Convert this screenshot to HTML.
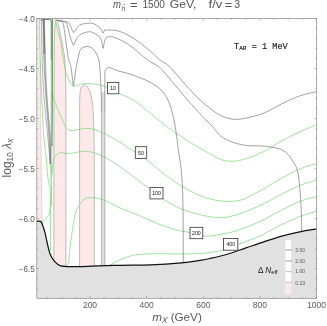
<!DOCTYPE html>
<html><head><meta charset="utf-8"><style>
html,body{margin:0;padding:0;background:#fff;}
svg{display:block;will-change:transform;opacity:0.999;font-family:"Liberation Sans",sans-serif;}
</style></head><body>
<svg width="327" height="326" viewBox="0 0 327 326">
<rect width="327" height="326" fill="#fff"/>
<path d="M36.8,18.6 L39.6,18.6 L40.1,54 L40.7,114 L41.1,154 L41.6,194 L42.2,224 L36.8,224 Z" fill="#fde9e9"/>
<path d="M40.2,60 L40.7,114 L41.1,154 L41.6,194 L42.2,224" fill="none" stroke="#c4c4c4" stroke-width="0.6"/>
<path d="M53.9,266 L53.90,120.00 C53.92,115.00 53.97,100.00 54.00,90.00 C54.03,80.00 54.05,68.33 54.10,60.00 C54.15,51.67 54.17,45.50 54.30,40.00 C54.43,34.50 54.67,30.00 54.90,27.00 C55.13,24.00 55.40,23.15 55.70,22.00 C56.00,20.85 56.30,19.87 56.70,20.10 C57.10,20.33 57.63,21.78 58.10,23.40 C58.57,25.02 58.97,27.20 59.50,29.80 C60.03,32.40 60.77,36.30 61.30,39.00 C61.83,41.70 62.20,43.17 62.70,46.00 C63.20,48.83 63.87,52.00 64.30,56.00 C64.73,60.00 65.05,64.33 65.30,70.00 C65.55,75.67 65.70,80.00 65.80,90.00 C65.90,100.00 65.88,123.33 65.90,130.00 L65.9,266 Z" fill="#fde9e9" stroke="#8a8a8a" stroke-width="0.55"/>
<path d="M79.6,267 L79.60,125.00 C79.60,122.50 79.57,114.70 79.60,110.00 C79.63,105.30 79.63,100.23 79.80,96.80 C79.97,93.37 80.17,91.23 80.60,89.40 C81.03,87.57 81.77,86.57 82.40,85.80 C83.03,85.03 83.63,84.68 84.40,84.80 C85.17,84.92 86.08,85.42 87.00,86.50 C87.92,87.58 89.15,89.38 89.90,91.30 C90.65,93.22 91.03,95.55 91.50,98.00 C91.97,100.45 92.35,102.33 92.70,106.00 C93.05,109.67 93.37,114.33 93.60,120.00 C93.83,125.67 93.98,133.33 94.10,140.00 C94.22,146.67 94.27,156.67 94.30,160.00 L94.3,267 Z" fill="#fde9e9" stroke="#8a8a8a" stroke-width="0.55"/>
<path d="M101.4,267 L101.4,92 L104.9,92 L104.9,267 Z" fill="#dedede"/>
<path d="M54.90,18.60 C55.05,19.23 55.35,20.53 55.80,22.40 C56.25,24.27 56.98,27.33 57.60,29.80 C58.22,32.27 58.88,34.75 59.50,37.20 C60.12,39.65 60.82,41.70 61.30,44.50 C61.78,47.30 61.83,50.37 62.40,54.00 C62.97,57.63 64.03,62.97 64.70,66.30 C65.37,69.63 65.57,71.52 66.40,74.00 C67.23,76.48 68.53,79.18 69.70,81.20 C70.87,83.22 71.87,85.50 73.40,86.10 C74.93,86.70 77.07,85.22 78.90,84.80 C80.73,84.38 81.95,83.75 84.40,83.60 C86.85,83.45 90.53,83.53 93.60,83.90 C96.67,84.27 100.40,85.12 102.80,85.80 C105.20,86.48 105.38,86.78 108.00,88.00 C110.62,89.22 115.50,91.70 118.50,93.10 C121.50,94.50 123.20,95.02 126.00,96.40 C128.80,97.78 131.18,98.52 135.30,101.40 C139.42,104.28 145.58,109.60 150.70,113.70 C155.82,117.80 161.67,122.68 166.00,126.00 C170.33,129.32 172.60,130.80 176.70,133.60 C180.80,136.40 185.73,139.83 190.60,142.80 C195.47,145.77 200.87,148.60 205.90,151.40 C210.93,154.20 216.23,157.97 220.80,159.60 C225.37,161.23 229.12,161.35 233.30,161.20 C237.48,161.05 240.82,160.32 245.90,158.70 C250.98,157.08 257.82,154.48 263.80,151.50 C269.78,148.52 275.82,144.08 281.80,140.80 C287.78,137.52 293.90,134.50 299.70,131.80 C305.50,129.10 313.78,125.80 316.60,124.60" fill="none" stroke="#74d674" stroke-width="0.7"/>
<path d="M52.30,93.00 C52.33,93.37 52.28,94.22 52.50,95.20 C52.72,96.18 52.60,96.23 53.60,98.90 C54.60,101.57 56.87,107.32 58.50,111.20 C60.13,115.08 61.97,119.23 63.40,122.20 C64.83,125.17 66.00,127.63 67.10,129.00 C68.20,130.37 68.85,130.17 70.00,130.40 C71.15,130.63 71.47,130.72 74.00,130.40 C76.53,130.08 81.28,128.47 85.20,128.50 C89.12,128.53 92.38,128.72 97.50,130.60 C102.62,132.48 110.48,136.73 115.90,139.80 C121.32,142.87 124.87,145.63 130.00,149.00 C135.13,152.37 141.72,156.38 146.70,160.00 C151.68,163.62 154.13,166.37 159.90,170.70 C165.67,175.03 174.65,181.87 181.30,186.00 C187.95,190.13 195.02,193.33 199.80,195.50 C204.58,197.67 206.63,198.10 210.00,199.00 C213.37,199.90 216.83,200.48 220.00,200.90 C223.17,201.32 226.00,201.55 229.00,201.50 C232.00,201.45 235.18,201.15 238.00,200.60 C240.82,200.05 241.60,200.18 245.90,198.20 C250.20,196.22 257.82,192.07 263.80,188.70 C269.78,185.33 275.82,181.28 281.80,178.00 C287.78,174.72 293.90,171.42 299.70,169.00 C305.50,166.58 313.78,164.42 316.60,163.50" fill="none" stroke="#74d674" stroke-width="0.7"/>
<path d="M52.20,175.00 C52.23,174.10 52.27,171.73 52.40,169.60 C52.53,167.47 52.58,164.35 53.00,162.20 C53.42,160.05 53.98,158.17 54.90,156.70 C55.82,155.23 57.28,154.07 58.50,153.40 C59.72,152.73 60.97,152.67 62.20,152.70 C63.43,152.73 64.62,153.45 65.90,153.60 C67.18,153.75 68.55,153.70 69.90,153.60 C71.25,153.50 71.45,153.40 74.00,153.00 C76.55,152.60 80.77,150.83 85.20,151.20 C89.63,151.57 94.97,152.75 100.60,155.20 C106.23,157.65 113.22,162.05 119.00,165.90 C124.78,169.75 130.13,174.45 135.30,178.30 C140.47,182.15 145.38,185.57 150.00,189.00 C154.62,192.43 157.78,195.57 163.00,198.90 C168.22,202.23 175.17,206.38 181.30,209.00 C187.43,211.62 195.02,213.30 199.80,214.60 C204.58,215.90 206.80,216.30 210.00,216.80 C213.20,217.30 216.00,217.57 219.00,217.60 C222.00,217.63 223.52,218.02 228.00,217.00 C232.48,215.98 239.40,214.00 245.90,211.50 C252.40,209.00 261.02,204.90 267.00,202.00 C272.98,199.10 276.35,196.85 281.80,194.10 C287.25,191.35 293.90,187.85 299.70,185.50 C305.50,183.15 313.78,180.92 316.60,180.00" fill="none" stroke="#74d674" stroke-width="0.7"/>
<path d="M66.20,266.00 C66.60,265.33 68.03,264.33 68.60,262.00 C69.17,259.67 69.13,256.22 69.60,252.00 C70.07,247.78 70.33,243.37 71.40,236.70 C72.47,230.03 73.95,218.13 76.00,212.00 C78.05,205.87 81.15,202.28 83.70,199.90 C86.25,197.52 87.98,197.70 91.30,197.70 C94.62,197.70 98.98,198.27 103.60,199.90 C108.22,201.53 113.20,204.95 119.00,207.50 C124.80,210.05 132.10,212.55 138.40,215.20 C144.70,217.85 150.67,221.00 156.80,223.40 C162.93,225.80 169.67,228.07 175.20,229.60 C180.73,231.13 185.40,231.53 190.00,232.60 C194.60,233.67 199.13,235.48 202.80,236.00 C206.47,236.52 209.13,235.95 212.00,235.70 C214.87,235.45 217.33,234.95 220.00,234.50 C222.67,234.05 225.22,233.65 228.00,233.00 C230.78,232.35 233.72,231.53 236.70,230.60 C239.68,229.67 242.02,228.93 245.90,227.40 C249.78,225.87 256.48,222.98 260.00,221.40 C263.52,219.82 263.37,219.80 267.00,217.90 C270.63,216.00 276.18,212.82 281.80,210.00 C287.42,207.18 294.90,203.25 300.70,201.00 C306.50,198.75 313.95,197.25 316.60,196.50" fill="none" stroke="#74d674" stroke-width="0.7"/>
<path d="M108.70,266.20 C109.25,265.80 110.67,264.62 112.00,263.80 C113.33,262.98 114.37,262.37 116.70,261.30 C119.03,260.23 123.40,258.38 126.00,257.40 C128.60,256.42 129.97,255.92 132.30,255.40 C134.63,254.88 136.93,254.57 140.00,254.30 C143.07,254.03 146.53,253.88 150.70,253.80 C154.87,253.72 159.90,253.78 165.00,253.80 C170.10,253.82 175.50,253.95 181.30,253.90 C187.10,253.85 194.68,253.78 199.80,253.50 C204.92,253.22 208.13,252.78 212.00,252.20 C215.87,251.62 218.73,251.27 223.00,250.00 C227.27,248.73 233.78,246.02 237.60,244.60 C241.42,243.18 242.17,242.92 245.90,241.50 C249.63,240.08 256.48,237.63 260.00,236.10 C263.52,234.57 263.37,234.23 267.00,232.30 C270.63,230.37 276.18,227.18 281.80,224.50 C287.42,221.82 294.90,218.42 300.70,216.20 C306.50,213.98 313.95,212.03 316.60,211.20" fill="none" stroke="#74d674" stroke-width="0.7"/>
<path d="M39.60,18.60 C39.68,24.50 39.77,41.43 40.10,54.00 C40.43,66.57 41.02,80.67 41.60,94.00 C42.18,107.33 42.82,123.33 43.60,134.00 C44.38,144.67 45.65,151.33 46.30,158.00 C46.95,164.67 47.00,169.33 47.50,174.00 C48.00,178.67 48.75,183.58 49.30,186.00 C49.85,188.42 50.58,186.83 50.80,188.50 C51.02,190.17 50.70,193.08 50.60,196.00 C50.50,198.92 50.48,202.83 50.20,206.00 C49.92,209.17 49.27,213.27 48.90,215.00 C48.53,216.73 48.62,215.78 48.00,216.40 C47.38,217.02 45.97,218.02 45.20,218.70 C44.43,219.38 43.78,219.58 43.40,220.50 C43.02,221.42 42.98,223.58 42.90,224.20" fill="none" stroke="#74d674" stroke-width="0.7"/>
<path d="M52.0,144 L51.6,164 L51.3,180 L50.8,200 L50.45,215 L50.4,251" fill="none" stroke="#74d674" stroke-width="0.7"/>
<path d="M50.4,164 L51.6,190 L51.4,206" fill="none" stroke="#74d674" stroke-width="0.7"/>
<path d="M52.35,18.6 L52.3,94 L52.0,146" fill="none" stroke="#2f8a2f" stroke-width="0.9"/>
<path d="M56.70,20.10 C57.58,20.27 60.45,20.82 62.00,21.10 C63.55,21.38 64.92,21.57 66.00,21.80 C67.08,22.03 67.83,21.97 68.50,22.50 C69.17,23.03 69.42,23.83 70.00,25.00 C70.58,26.17 71.38,28.27 72.00,29.50 C72.62,30.73 73.12,32.32 73.70,32.40 C74.28,32.48 74.48,31.23 75.50,30.00 C76.52,28.77 78.05,26.08 79.80,25.00 C81.55,23.92 83.97,23.78 86.00,23.50 C88.03,23.22 89.97,22.83 92.00,23.30 C94.03,23.77 96.62,25.18 98.20,26.30 C99.78,27.42 100.68,28.87 101.50,30.00 C102.32,31.13 102.63,32.97 103.10,33.10 C103.57,33.23 103.88,31.32 104.30,30.80 C104.72,30.28 103.15,29.93 105.60,30.00 C108.05,30.07 114.30,29.78 119.00,31.20 C123.70,32.62 128.63,35.23 133.80,38.50 C138.97,41.77 145.65,47.22 150.00,50.80 C154.35,54.38 156.73,57.45 159.90,60.00 C163.07,62.55 165.43,62.77 169.00,66.10 C172.57,69.43 176.68,74.88 181.30,80.00 C185.92,85.12 192.08,92.22 196.70,96.80 C201.32,101.38 204.98,104.37 209.00,107.50 C213.02,110.63 216.75,113.65 220.80,115.60 C224.85,117.55 229.12,118.78 233.30,119.20 C237.48,119.62 240.82,119.12 245.90,118.10 C250.98,117.08 257.82,115.48 263.80,113.10 C269.78,110.72 275.82,106.67 281.80,103.80 C287.78,100.93 293.90,97.93 299.70,95.90 C305.50,93.87 313.78,92.32 316.60,91.60" fill="none" stroke="#6e6e6e" stroke-width="0.65"/>
<path d="M56.70,20.10 C57.17,20.22 58.48,20.58 59.50,20.80 C60.52,21.02 61.63,21.03 62.80,21.40 C63.97,21.77 65.30,20.57 66.50,23.00 C67.70,25.43 69.08,32.83 70.00,36.00 C70.92,39.17 71.38,40.43 72.00,42.00 C72.62,43.57 73.12,45.57 73.70,45.40 C74.28,45.23 74.48,42.75 75.50,41.00 C76.52,39.25 77.45,36.45 79.80,34.90 C82.15,33.35 86.73,31.70 89.60,31.70 C92.47,31.70 95.15,33.77 97.00,34.90 C98.85,36.03 99.83,36.98 100.70,38.50 C101.57,40.02 101.80,42.35 102.20,44.00 C102.60,45.65 102.80,48.40 103.10,48.40 C103.40,48.40 103.58,45.65 104.00,44.00 C104.42,42.35 104.93,39.67 105.60,38.50 C106.27,37.33 106.57,37.20 108.00,37.00 C109.43,36.80 110.72,36.02 114.20,37.30 C117.68,38.58 123.33,40.92 128.90,44.70 C134.47,48.48 142.43,56.17 147.60,60.00 C152.77,63.83 155.82,64.12 159.90,67.70 C163.98,71.28 167.50,76.13 172.10,81.50 C176.70,86.87 182.38,94.03 187.50,99.90 C192.62,105.77 198.72,112.35 202.80,116.70 C206.88,121.05 209.00,122.77 212.00,126.00 C215.00,129.23 217.55,133.47 220.80,136.10 C224.05,138.73 227.32,140.25 231.50,141.80 C235.68,143.35 240.52,144.68 245.90,145.40 C251.28,146.12 258.72,145.67 263.80,146.10 C268.88,146.53 273.23,147.30 276.40,148.00 C279.57,148.70 280.83,149.22 282.80,150.30 C284.77,151.38 286.50,152.63 288.20,154.50 C289.90,156.37 291.47,158.85 293.00,161.50 C294.53,164.15 296.25,165.87 297.40,170.40 C298.55,174.93 299.27,182.10 299.90,188.70 C300.53,195.30 300.90,202.82 301.20,210.00 C301.50,217.18 301.62,228.17 301.70,231.80" fill="none" stroke="#6e6e6e" stroke-width="0.65"/>
<path d="M56.70,20.10 C57.08,20.18 58.28,20.42 59.00,20.60 C59.72,20.78 60.37,20.88 61.00,21.20 C61.63,21.52 62.25,21.03 62.80,22.50 C63.35,23.97 63.48,24.75 64.30,30.00 C65.12,35.25 66.95,49.00 67.70,54.00 C68.45,59.00 68.28,57.95 68.80,60.00 C69.32,62.05 70.20,63.30 70.80,66.30 C71.40,69.30 71.97,74.70 72.40,78.00 C72.83,81.30 73.03,86.10 73.40,86.10 C73.77,86.10 74.15,81.02 74.60,78.00 C75.05,74.98 75.38,72.00 76.10,68.00 C76.82,64.00 78.17,57.08 78.90,54.00 C79.63,50.92 79.82,50.58 80.50,49.50 C81.18,48.42 81.88,48.02 83.00,47.50 C84.12,46.98 85.87,46.40 87.20,46.40 C88.53,46.40 89.78,46.77 91.00,47.50 C92.22,48.23 93.42,49.38 94.50,50.80 C95.58,52.22 96.68,53.97 97.50,56.00 C98.32,58.03 98.93,59.83 99.40,63.00 C99.87,66.17 100.02,70.50 100.30,75.00 C100.58,79.50 100.92,85.83 101.10,90.00 C101.28,94.17 101.35,96.33 101.40,100.00 C101.45,103.67 101.40,110.00 101.40,112.00" fill="none" stroke="#6e6e6e" stroke-width="0.65"/>
<path d="M104.85,112.00 C104.85,110.00 104.84,105.67 104.85,100.00 C104.86,94.33 104.86,82.83 104.90,78.00 C104.94,73.17 104.68,72.72 105.10,71.00 C105.52,69.28 106.50,68.22 107.40,67.70 C108.30,67.18 109.42,67.65 110.50,67.90 C111.58,68.15 112.48,68.65 113.90,69.20 C115.32,69.75 116.98,70.58 119.00,71.20 C121.02,71.82 123.28,72.10 126.00,72.90 C128.72,73.70 131.18,74.40 135.30,76.00 C139.42,77.60 146.28,80.05 150.70,82.50 C155.12,84.95 158.82,87.55 161.80,90.70 C164.78,93.85 166.62,96.80 168.60,101.40 C170.58,106.00 172.35,112.42 173.70,118.30 C175.05,124.18 175.93,131.42 176.70,136.70 C177.47,141.98 177.53,144.33 178.30,150.00 C179.07,155.67 180.53,162.15 181.30,170.70 C182.07,179.25 182.57,185.93 182.90,201.30 C183.23,216.67 183.23,252.63 183.30,262.90" fill="none" stroke="#6e6e6e" stroke-width="0.65"/>
<path d="M101.4,112 L101.4,266.5 M104.85,112 L104.85,266.5" fill="none" stroke="#8e8e8e" stroke-width="0.6"/>
<path d="M41.40,19.40 C41.50,25.17 41.60,41.57 42.00,54.00 C42.40,66.43 42.88,80.67 43.80,94.00 C44.72,107.33 46.42,122.33 47.50,134.00 C48.58,145.67 49.83,159.00 50.30,164.00" fill="none" stroke="#6a6a6a" stroke-width="0.5"/>
<path d="M43.00,19.40 C43.10,25.17 43.15,41.57 43.60,54.00 C44.05,66.43 44.85,80.67 45.70,94.00 C46.55,107.33 47.93,122.33 48.70,134.00 C49.47,145.67 50.03,159.00 50.30,164.00" fill="none" stroke="#6a6a6a" stroke-width="0.5"/>
<path d="M43.70,19.40 C43.82,25.17 43.97,41.57 44.40,54.00 C44.83,66.43 45.47,80.67 46.30,94.00 C47.13,107.33 48.73,122.33 49.40,134.00 C50.07,145.67 50.15,159.00 50.30,164.00" fill="none" stroke="#6a6a6a" stroke-width="0.5"/>
<path d="M44.40,19.40 C44.55,25.17 44.88,41.57 45.30,54.00 C45.72,66.43 46.12,80.67 46.90,94.00 C47.68,107.33 49.43,122.33 50.00,134.00 C50.57,145.67 50.25,159.00 50.30,164.00" fill="none" stroke="#6a6a6a" stroke-width="0.5"/>
<path d="M51.20,21.00 C51.20,33.17 51.22,75.17 51.20,94.00 C51.18,112.83 51.23,122.33 51.10,134.00 C50.97,145.67 50.52,159.00 50.40,164.00" fill="none" stroke="#6a6a6a" stroke-width="0.5"/>
<path d="M43.4,19.4 L44.1,54 M44.1,19.4 L44.9,54 M51.3,21 L51.3,60" fill="none" stroke="#555" stroke-width="0.5"/>
<path d="M41.2,21 Q41.2,19.3 43,19.3 L49.2,19.3 Q51.2,19.3 51.2,21" fill="none" stroke="#555" stroke-width="0.9"/>
<path d="M36.80,221.40 C37.43,221.40 39.67,220.83 40.60,221.40 C41.53,221.97 41.63,222.80 42.40,224.80 C43.17,226.80 44.45,230.62 45.20,233.40 C45.95,236.18 46.10,238.12 46.90,241.50 C47.70,244.88 48.73,250.40 50.00,253.70 C51.27,257.00 52.72,259.28 54.50,261.30 C56.28,263.32 58.12,264.92 60.70,265.80 C63.28,266.68 64.90,266.53 70.00,266.60 C75.10,266.67 82.97,266.42 91.30,266.20 C99.63,265.98 110.10,265.52 120.00,265.30 C129.90,265.08 140.48,265.30 150.70,264.90 C160.92,264.50 173.12,263.65 181.30,262.90 C189.48,262.15 195.02,261.13 199.80,260.40 C204.58,259.67 205.30,259.57 210.00,258.50 C214.70,257.43 222.02,255.77 228.00,254.00 C233.98,252.23 239.93,249.93 245.90,247.90 C251.87,245.87 257.82,243.77 263.80,241.80 C269.78,239.83 275.82,237.77 281.80,236.10 C287.78,234.43 293.90,233.00 299.70,231.80 C305.50,230.60 313.78,229.38 316.60,228.90 L316.7,298.3 L36.8,298.3 Z" fill="#e1e1e1"/>
<path d="M36.80,221.40 C37.43,221.40 39.67,220.83 40.60,221.40 C41.53,221.97 41.63,222.80 42.40,224.80 C43.17,226.80 44.45,230.62 45.20,233.40 C45.95,236.18 46.10,238.12 46.90,241.50 C47.70,244.88 48.73,250.40 50.00,253.70 C51.27,257.00 52.72,259.28 54.50,261.30 C56.28,263.32 58.12,264.92 60.70,265.80 C63.28,266.68 64.90,266.53 70.00,266.60 C75.10,266.67 82.97,266.42 91.30,266.20 C99.63,265.98 110.10,265.52 120.00,265.30 C129.90,265.08 140.48,265.30 150.70,264.90 C160.92,264.50 173.12,263.65 181.30,262.90 C189.48,262.15 195.02,261.13 199.80,260.40 C204.58,259.67 205.30,259.57 210.00,258.50 C214.70,257.43 222.02,255.77 228.00,254.00 C233.98,252.23 239.93,249.93 245.90,247.90 C251.87,245.87 257.82,243.77 263.80,241.80 C269.78,239.83 275.82,237.77 281.80,236.10 C287.78,234.43 293.90,233.00 299.70,231.80 C305.50,230.60 313.78,229.38 316.60,228.90" fill="none" stroke="#111" stroke-width="1.25"/>
<rect x="285.5" y="240.2" width="5.7" height="53.2" fill="#fff"/>
<rect x="285.5" y="283.0" width="5.7" height="10.4" fill="#fde9e9"/>
<path d="M285.5,250.0 L292,250.0" stroke="#777" stroke-width="0.7"/>
<path d="M285.5,261.0 L292,261.0" stroke="#777" stroke-width="0.7"/>
<path d="M285.5,271.6 L292,271.6" stroke="#aaa" stroke-width="0.7"/>
<path d="M285.5,282.6 L292,282.6" stroke="#aaa" stroke-width="0.7"/>
<text x="295.3" y="251.8" font-size="5" fill="#555">3.00</text>
<text x="295.3" y="262.8" font-size="5" fill="#555">2.00</text>
<text x="295.3" y="273.4" font-size="5" fill="#555">1.00</text>
<text x="295.3" y="285.0" font-size="5" fill="#555">0.23</text>
<text x="258" y="272.8" font-size="8.2" fill="#111">Δ <tspan font-style="italic">N</tspan><tspan font-size="5.8" dy="1.3">eff</tspan></text>
<rect x="36.8" y="18.6" width="279.9" height="279.7" fill="none" stroke="#888" stroke-width="0.7"/>
<path d="M36.8,18.60 h2.2 M316.7,18.60 h-2.2 M36.8,28.60 h1.3 M316.7,28.60 h-1.3 M36.8,38.60 h1.3 M316.7,38.60 h-1.3 M36.8,48.60 h1.3 M316.7,48.60 h-1.3 M36.8,58.60 h1.3 M316.7,58.60 h-1.3 M36.8,68.60 h2.2 M316.7,68.60 h-2.2 M36.8,78.60 h1.3 M316.7,78.60 h-1.3 M36.8,88.60 h1.3 M316.7,88.60 h-1.3 M36.8,98.60 h1.3 M316.7,98.60 h-1.3 M36.8,108.60 h1.3 M316.7,108.60 h-1.3 M36.8,118.60 h2.2 M316.7,118.60 h-2.2 M36.8,128.60 h1.3 M316.7,128.60 h-1.3 M36.8,138.60 h1.3 M316.7,138.60 h-1.3 M36.8,148.60 h1.3 M316.7,148.60 h-1.3 M36.8,158.60 h1.3 M316.7,158.60 h-1.3 M36.8,168.60 h2.2 M316.7,168.60 h-2.2 M36.8,178.60 h1.3 M316.7,178.60 h-1.3 M36.8,188.60 h1.3 M316.7,188.60 h-1.3 M36.8,198.60 h1.3 M316.7,198.60 h-1.3 M36.8,208.60 h1.3 M316.7,208.60 h-1.3 M36.8,218.60 h2.2 M316.7,218.60 h-2.2 M36.8,228.60 h1.3 M316.7,228.60 h-1.3 M36.8,238.60 h1.3 M316.7,238.60 h-1.3 M36.8,248.60 h1.3 M316.7,248.60 h-1.3 M36.8,258.60 h1.3 M316.7,258.60 h-1.3 M36.8,268.60 h2.2 M316.7,268.60 h-2.2 M36.8,278.60 h1.3 M316.7,278.60 h-1.3 M36.8,288.60 h1.3 M316.7,288.60 h-1.3 M47.55,298.3 v-1.3 M47.55,18.6 v1.3 M61.71,298.3 v-1.3 M61.71,18.6 v1.3 M75.87,298.3 v-1.3 M75.87,18.6 v1.3 M90.02,298.3 v-2.2 M90.02,18.6 v2.2 M104.18,298.3 v-1.3 M104.18,18.6 v1.3 M118.33,298.3 v-1.3 M118.33,18.6 v1.3 M132.49,298.3 v-1.3 M132.49,18.6 v1.3 M146.64,298.3 v-2.2 M146.64,18.6 v2.2 M160.80,298.3 v-1.3 M160.80,18.6 v1.3 M174.95,298.3 v-1.3 M174.95,18.6 v1.3 M189.11,298.3 v-1.3 M189.11,18.6 v1.3 M203.26,298.3 v-2.2 M203.26,18.6 v2.2 M217.42,298.3 v-1.3 M217.42,18.6 v1.3 M231.57,298.3 v-1.3 M231.57,18.6 v1.3 M245.73,298.3 v-1.3 M245.73,18.6 v1.3 M259.88,298.3 v-2.2 M259.88,18.6 v2.2 M274.04,298.3 v-1.3 M274.04,18.6 v1.3 M288.19,298.3 v-1.3 M288.19,18.6 v1.3 M302.34,298.3 v-1.3 M302.34,18.6 v1.3 M316.50,298.3 v-2.2 M316.50,18.6 v2.2" stroke="#888" stroke-width="0.6" fill="none"/>
<text x="34.9" y="21.6" font-size="8.2" fill="#5a5a5a" text-anchor="end">−4.0</text>
<text x="34.9" y="71.6" font-size="8.2" fill="#5a5a5a" text-anchor="end">−4.5</text>
<text x="34.9" y="121.6" font-size="8.2" fill="#5a5a5a" text-anchor="end">−5.0</text>
<text x="34.9" y="171.6" font-size="8.2" fill="#5a5a5a" text-anchor="end">−5.5</text>
<text x="34.9" y="221.6" font-size="8.2" fill="#5a5a5a" text-anchor="end">−6.0</text>
<text x="34.9" y="271.6" font-size="8.2" fill="#5a5a5a" text-anchor="end">−6.5</text>
<text x="90.0" y="308.4" font-size="8.5" fill="#5a5a5a" text-anchor="middle">200</text>
<text x="146.6" y="308.4" font-size="8.5" fill="#5a5a5a" text-anchor="middle">400</text>
<text x="203.3" y="308.4" font-size="8.5" fill="#5a5a5a" text-anchor="middle">600</text>
<text x="259.9" y="308.4" font-size="8.5" fill="#5a5a5a" text-anchor="middle">800</text>
<text x="316.5" y="308.4" font-size="8.5" fill="#5a5a5a" text-anchor="middle">1000</text>
<text x="177" y="321.2" font-size="11.7" fill="#5a5a5a" text-anchor="middle"><tspan font-style="italic">m</tspan><tspan font-size="8.2" dy="1.9" font-style="italic">X</tspan><tspan dy="-1.9"> (GeV)</tspan></text>
<text transform="translate(11.3,158) rotate(-90)" font-size="12" fill="#5a5a5a" text-anchor="middle">log<tspan font-size="8.4" dy="2">10</tspan><tspan dy="-2"> </tspan><tspan font-style="italic">λ</tspan><tspan font-size="8.4" dy="2" font-style="italic">x</tspan></text>
<text x="113.0" y="8.3" font-size="10.3" fill="#555" textLength="8.0" lengthAdjust="spacingAndGlyphs" font-style="italic">m</text>
<text x="121.4" y="10.8" font-size="7.2" fill="#555" textLength="3.8" lengthAdjust="spacingAndGlyphs" font-style="italic">ĥ</text>
<text x="130.0" y="8.6" font-size="12.5" fill="#555" textLength="7.6" lengthAdjust="spacingAndGlyphs">=</text>
<text x="142.4" y="8.3" font-size="10.3" fill="#555" textLength="22.5" lengthAdjust="spacingAndGlyphs">1500</text>
<text x="169.8" y="8.3" font-size="10.3" fill="#555" textLength="26.6" lengthAdjust="spacingAndGlyphs">GeV,</text>
<text x="208.6" y="8.3" font-size="10.3" fill="#555" textLength="13.6" lengthAdjust="spacingAndGlyphs">f/v</text>
<text x="224.8" y="8.6" font-size="12.5" fill="#555" textLength="7.4" lengthAdjust="spacingAndGlyphs">=</text>
<text x="234.2" y="8.3" font-size="10.3" fill="#555" textLength="5.9" lengthAdjust="spacingAndGlyphs">3</text>
<text x="234" y="49" font-size="8.6" fill="#1a1a1a" stroke="#1a1a1a" stroke-width="0.15" font-family="Liberation Mono, monospace">T<tspan font-size="6.1" dy="1.3">AR</tspan><tspan dy="-1.3"> = 1 MeV</tspan></text>
<rect x="107.4" y="82.4" width="11.4" height="11.4" fill="#fff" stroke="#333" stroke-width="0.8"/>
<text x="113.1" y="90.0" font-size="5.2" fill="#111" text-anchor="middle">10</text>
<rect x="135.3" y="146.7" width="11.4" height="11.8" fill="#fff" stroke="#333" stroke-width="0.8"/>
<text x="141.0" y="154.5" font-size="5.2" fill="#111" text-anchor="middle">50</text>
<rect x="150.0" y="187.5" width="13.0" height="11.4" fill="#fff" stroke="#333" stroke-width="0.8"/>
<text x="156.5" y="195.1" font-size="5.2" fill="#111" text-anchor="middle">100</text>
<rect x="190.0" y="227.3" width="12.8" height="11.4" fill="#fff" stroke="#333" stroke-width="0.8"/>
<text x="196.4" y="234.9" font-size="5.2" fill="#111" text-anchor="middle">200</text>
<rect x="223.5" y="238.4" width="14.3" height="11.8" fill="#fff" stroke="#333" stroke-width="0.8"/>
<text x="230.7" y="246.2" font-size="5.2" fill="#111" text-anchor="middle">400</text>
</svg>
</body></html>
